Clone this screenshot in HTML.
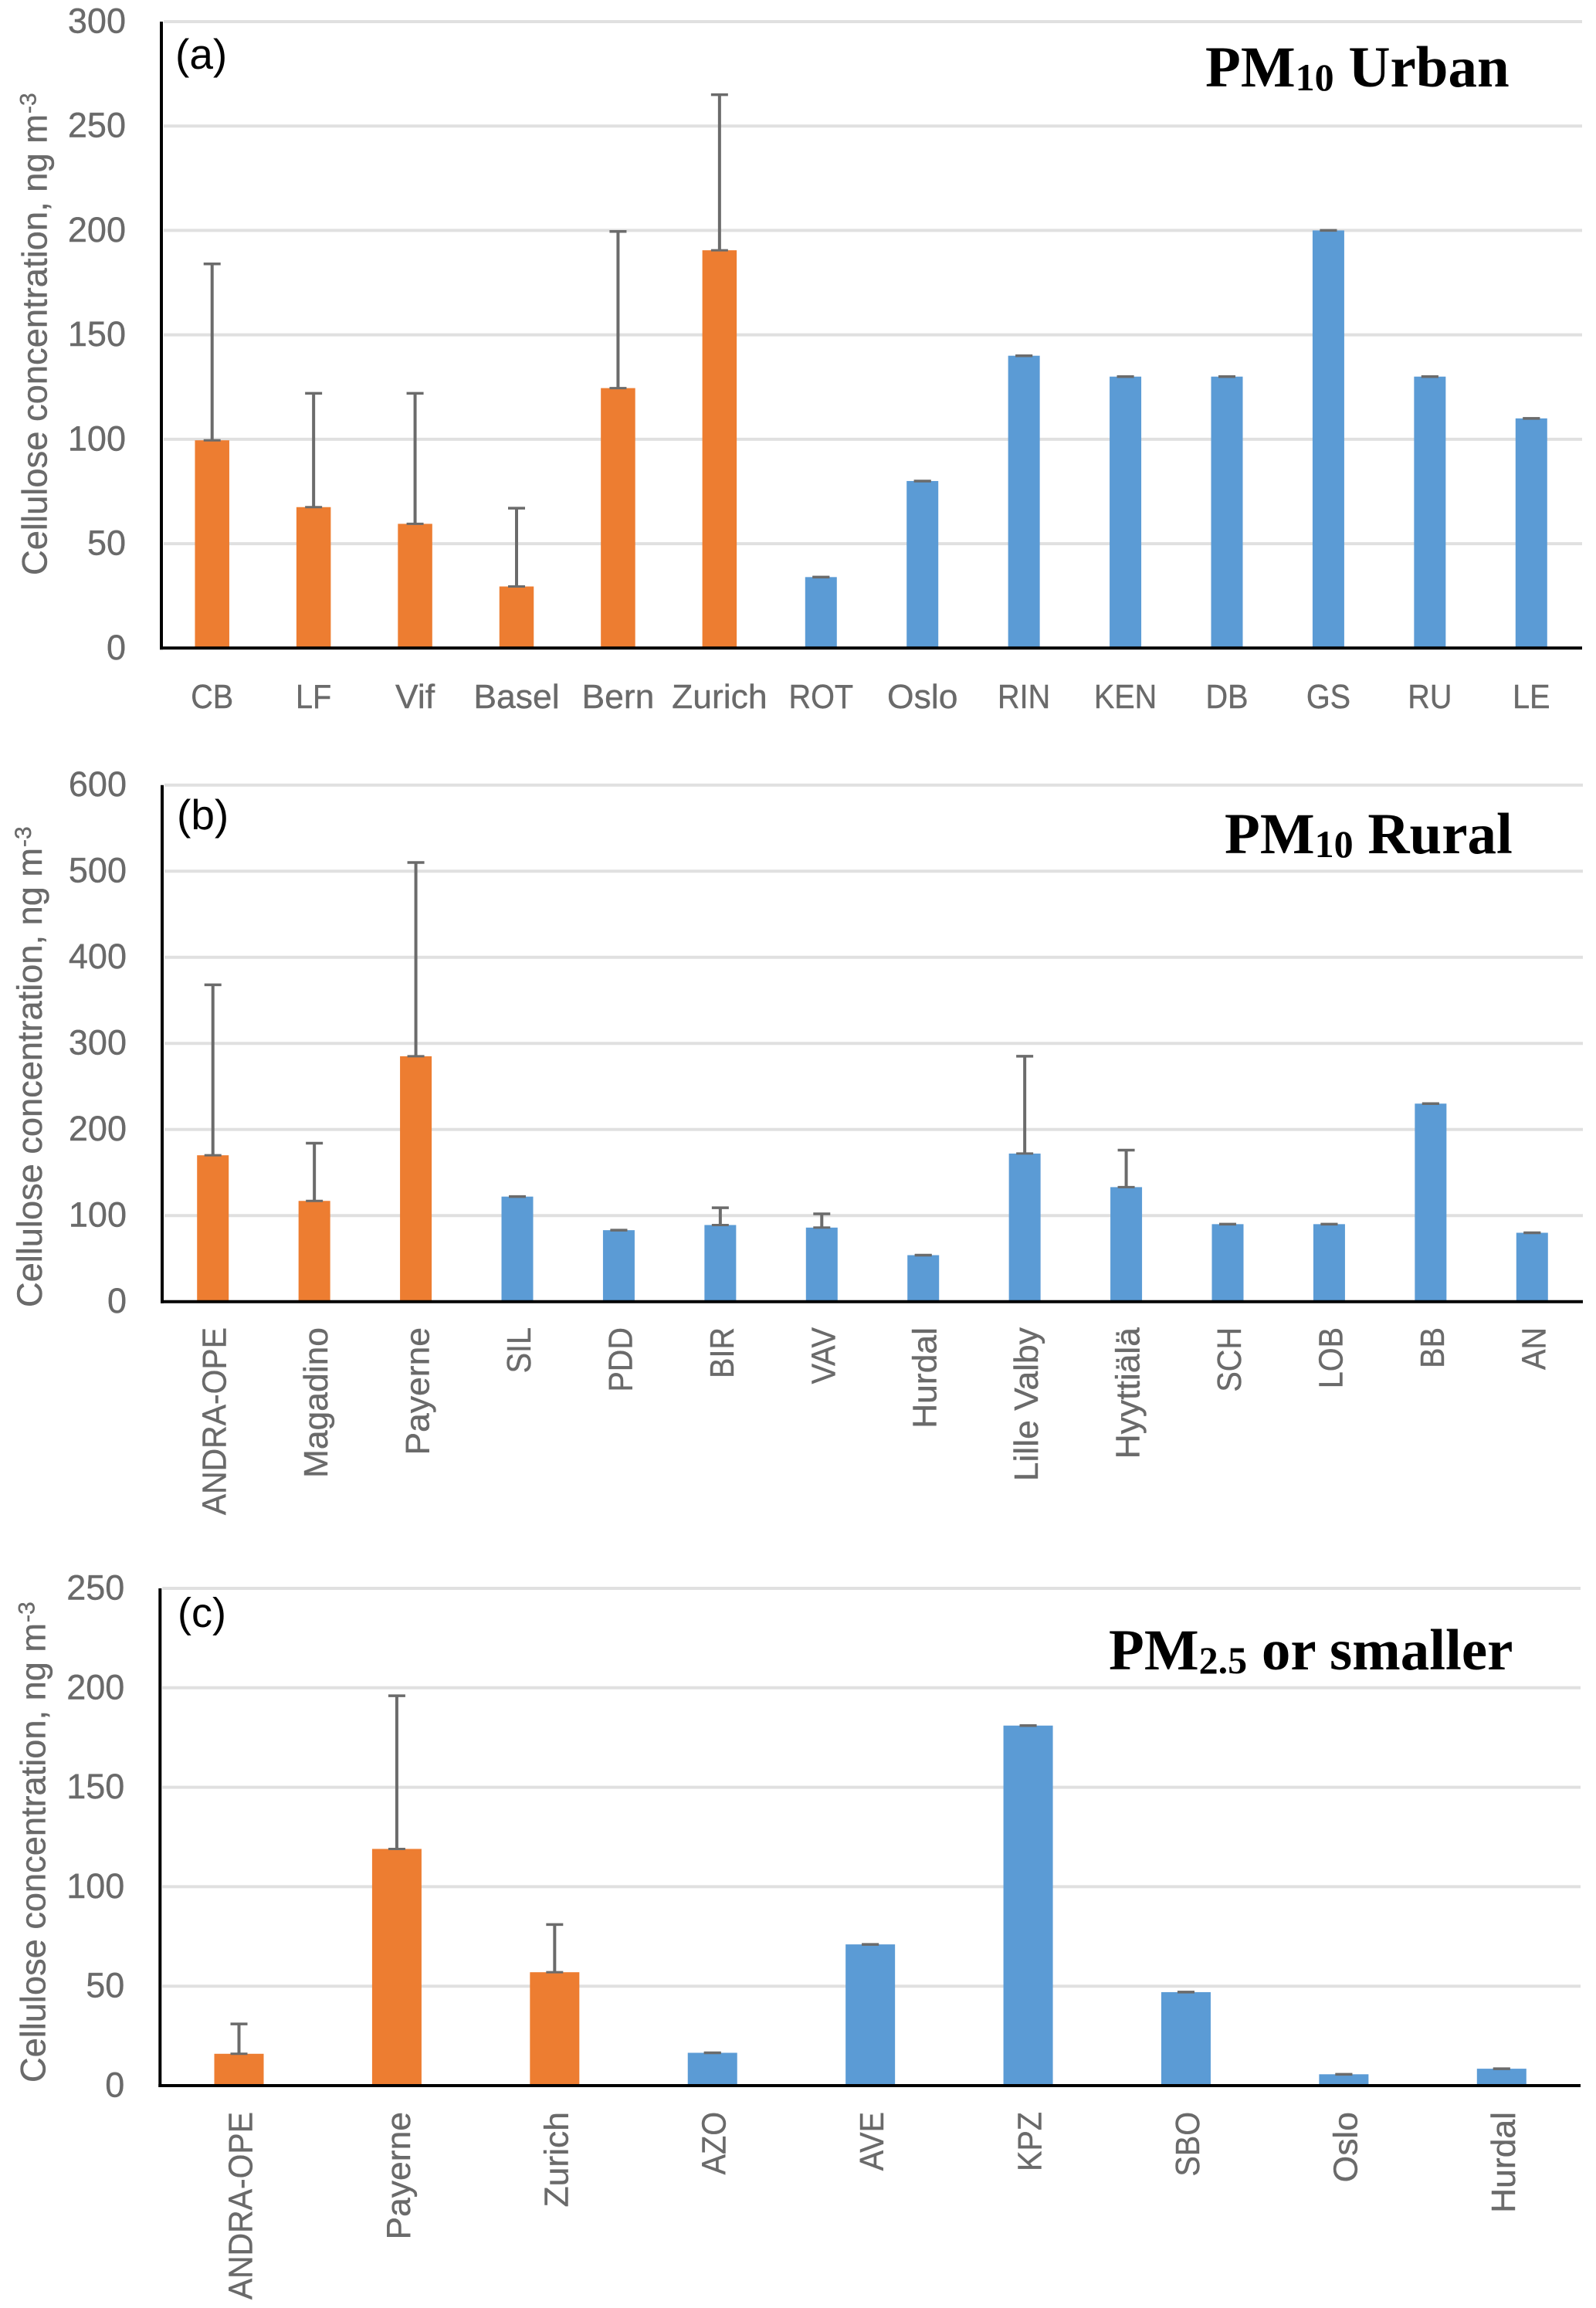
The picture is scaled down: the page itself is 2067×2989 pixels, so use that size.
<!DOCTYPE html>
<html lang="en">
<head>
<meta charset="utf-8">
<title>Cellulose concentration by site</title>
<style>
html,body{margin:0;padding:0;background:#fff;}
svg{display:block;}
text{font-family:"Liberation Sans",sans-serif;fill:#6a6a6a;stroke:#6a6a6a;stroke-width:0.4px;}
.panel-title,.panel-title tspan{font-family:"Liberation Serif",serif;font-weight:bold;fill:#000;stroke:none;}
.panel-letter{fill:#000;stroke:none;}
</style>
</head>
<body>
<svg id="figure" xmlns="http://www.w3.org/2000/svg" width="2067" height="2989" viewBox="0 0 2067 2989">
  <rect width="2067" height="2989" fill="#fff"/>
  <g id="panel-a"></g>
  <g id="panel-b"></g>
  <g id="panel-c"></g>
  <text class="panel-letter" x="227" y="89" font-size="55">(a)</text>
  <text class="panel-letter" x="229" y="1074" font-size="55">(b)</text>
  <text class="panel-letter" x="230" y="2107" font-size="54">(c)</text>
  <text class="panel-title" x="1561" y="112" font-size="75">PM<tspan font-size="50" dy="5">10</tspan><tspan dy="-5"> Urban</tspan></text>
  <text class="panel-title" x="1586" y="1105" font-size="75">PM<tspan font-size="50" dy="5">10</tspan><tspan dy="-5"> Rural</tspan></text>
  <text class="panel-title" x="1436" y="2162" font-size="75">PM<tspan font-size="50" dy="5">2.5</tspan><tspan dy="-5"> or smaller</tspan></text>
</svg>
<script>
// Panel (a) PM10 Urban
const aCategories = ["CB","LF","Vif","Basel","Bern","Zurich","ROT","Oslo","RIN","KEN","DB","GS","RU","LE"];
const aValues = [99.5,67.5,59.5,29.5,124.5,190.5,34,80,140,130,130,200,130,110];
const aErrors = [84.5,54.5,62.5,37.5,75,74.5,0,0,0,0,0,0,0,0];
const aTicks = [0,50,100,150,200,250,300];
const aOrangeCount = 6;

// Panel (b) PM10 Rural
const bCategories = ["ANDRA-OPE","Magadino","Payerne","SIL","PDD","BIR","VAV","Hurdal","Lille Valby","Hyyttiälä","SCH","LOB","BB","AN"];
const bValues = [170,117,285,122,83,89,86,54,172,133,90,90,230,80];
const bErrors = [198,67,225,0,0,20,16,0,113,43,0,0,0,0];
const bTicks = [0,100,200,300,400,500,600];
const bOrangeCount = 3;

// Panel (c) PM2.5 or smaller
const cCategories = ["ANDRA-OPE","Payerne","Zurich","AZO","AVE","KPZ","SBO","Oslo","Hurdal"];
const cValues = [16,119,57,16.5,71,181,47,5.7,8.5];
const cErrors = [15,77,24,0,0,0,0,0,0];
const cTicks = [0,50,100,150,200,250];
const cOrangeCount = 3;

const NS = "http://www.w3.org/2000/svg";
function make(parent, tag, attrs, content) {
  const el = document.createElementNS(NS, tag);
  for (const k in attrs) el.setAttribute(k, attrs[k]);
  if (content !== undefined) el.textContent = content;
  parent.appendChild(el);
  return el;
}
function labelScale(label) {
  if (/^[A-Z-]+$/.test(label)) return label.length > 5 ? 0.93 : 0.9;
  return 1.01;
}
function drawPanel(cfg) {
  const root = document.getElementById(cfg.id);
  const maxTick = cfg.ticks[cfg.ticks.length - 1];
  const y = v => cfg.bottom - (v / maxTick) * (cfg.bottom - cfg.top);
  const band = (cfg.right - cfg.left) / cfg.categories.length;
  const x = i => cfg.left + band * (i + 0.5);

  cfg.ticks.forEach(t => {
    if (t !== 0) {
      const grid = make(root, "line", {x1: cfg.left + 3, x2: cfg.right, y1: y(t), y2: y(t), stroke: "#e0e0e0", "stroke-width": 4});
      
      
    }
    const tick = make(root, "text", {x: cfg.left - 46, y: y(t) + 14.5, "text-anchor": "end", "font-size": 45}, String(t));
    
    
  });

  cfg.values.forEach((v, i) => {
    const orange = i < cfg.orangeCount;
    const w = orange ? cfg.orangeWidth : cfg.blueWidth;
    const bar = make(root, "rect", {x: x(i) - w / 2, y: y(v), width: w, height: cfg.bottom - y(v), fill: orange ? "#ed7d31" : "#5b9bd5"});
    
    

    const e = cfg.errors[i];
    const errLine = make(root, "line", {x1: x(i), x2: x(i), y1: y(v), y2: y(v + e), stroke: "#6b6b6b", "stroke-width": 4});
    
    
    const capBase = make(root, "line", {x1: x(i) - 11, x2: x(i) + 11, y1: y(v), y2: y(v), stroke: "#6b6b6b", "stroke-width": 3});
    
    
    const capTop = make(root, "line", {x1: x(i) - 11, x2: x(i) + 11, y1: y(v + e), y2: y(v + e), stroke: "#6b6b6b", "stroke-width": 3.5});
    
    

    const s = labelScale(cfg.categories[i]);
    const tf = cfg.rotated
      ? "translate(" + (x(i) + 17) + "," + cfg.labelY + ") rotate(-90) scale(" + s + ",1)"
      : "translate(" + x(i) + "," + cfg.labelY + ") scale(" + s + ",1)";
    const label = make(root, "text", {transform: tf, "text-anchor": cfg.rotated ? "end" : "middle", "font-size": 44}, cfg.categories[i]);
    
    
  });

  const yAxis = make(root, "line", {x1: cfg.left, x2: cfg.left, y1: cfg.top, y2: cfg.bottom + 2, stroke: "#000", "stroke-width": 4});
  
  
  const xAxis = make(root, "line", {x1: cfg.left - 2, x2: cfg.right, y1: cfg.bottom, y2: cfg.bottom, stroke: "#000", "stroke-width": 4});
  
  

  const title = make(root, "text", {
    transform: "translate(" + cfg.titleX + "," + cfg.titleBottom + ") rotate(-90)",
    "font-size": 45, textLength: cfg.titleLength, lengthAdjust: "spacingAndGlyphs"
  }, "Cellulose concentration, ng m");
  
  
  const sup = make(root, "text", {
    transform: "translate(" + (cfg.titleX - 14) + "," + (cfg.titleBottom - cfg.titleLength - 1) + ") rotate(-90)",
    "font-size": 30
  }, "-3");
  
  
}

drawPanel({id: "panel-a", categories: aCategories, values: aValues, errors: aErrors, ticks: aTicks, orangeCount: aOrangeCount,
  left: 209, right: 2049, top: 28, bottom: 839.3, orangeWidth: 44.5, blueWidth: 41, rotated: false, labelY: 917,
  titleX: 60.7, titleBottom: 745, titleLength: 597});
drawPanel({id: "panel-b", categories: bCategories, values: bValues, errors: bErrors, ticks: bTicks, orangeCount: bOrangeCount,
  left: 210, right: 2050, top: 1016.7, bottom: 1685.7, orangeWidth: 41, blueWidth: 41, rotated: true, labelY: 1719,
  titleX: 54, titleBottom: 1693, titleLength: 595});
drawPanel({id: "panel-c", categories: cCategories, values: cValues, errors: cErrors, ticks: cTicks, orangeCount: cOrangeCount,
  left: 207.3, right: 2047, top: 2057, bottom: 2701, orangeWidth: 64, blueWidth: 64, rotated: true, labelY: 2735,
  titleX: 58.7, titleBottom: 2697, titleLength: 595});
</script>
</body>
</html>
